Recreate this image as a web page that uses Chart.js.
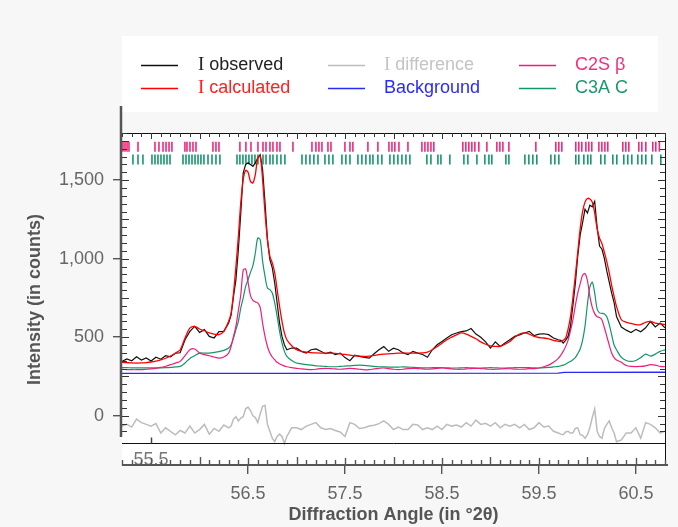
<!DOCTYPE html>
<html><head><meta charset="utf-8">
<script src="https://cdn.jsdelivr.net/npm/chart.js@4.4.1/dist/chart.umd.min.js"></script>
<style>html,body{margin:0;padding:0;background:#f7f7f7;}canvas{display:block;}</style>
</head><body>
<canvas id="c" width="678" height="527"></canvas>
<script>
// ---- data (2θ in degrees, intensity in counts) ----
const angle = [55.20,55.25,55.30,55.35,55.40,55.45,55.50,55.55,55.60,55.65,55.70,55.75,55.80,55.85,55.90,55.95,56.00,56.05,56.10,56.15,56.20,56.25,56.30,
56.325,56.35,56.375,56.40,56.425,56.45,56.475,56.50,56.525,56.55,56.575,56.60,56.625,56.65,56.675,56.70,56.725,56.75,56.775,56.80,56.825,56.85,56.875,56.90,
56.95,57.00,57.05,57.10,57.15,57.20,57.25,57.30,57.35,57.40,57.45,57.50,57.55,57.60,57.65,57.70,57.75,57.80,57.85,57.90,57.95,58.00,58.05,58.10,58.15,58.20,58.25,58.30,58.35,58.40,58.45,58.50,58.55,58.60,58.65,58.70,58.75,58.80,58.85,58.90,58.95,59.00,59.05,59.10,59.15,59.20,59.25,59.30,59.35,59.40,59.45,59.50,59.55,59.60,59.65,59.70,
59.725,59.75,59.775,59.80,59.825,59.85,59.875,59.90,59.925,59.95,59.975,60.00,60.025,60.05,60.075,60.10,60.125,60.15,60.175,60.20,60.225,60.25,60.275,60.30,
60.35,60.40,60.45,60.50,60.55,60.60,60.65,60.70,60.75,60.80];

const observed = [345,362,350,375,355,368,348,372,360,382,375,398,401,484,537,569,530,548,505,495,535,537,590,
640,760,866,1057,1291,1546,1599,1610,1599,1588,1610,1641,1662,1567,1355,1121,994,941,845,718,590,505,452,420,
431,430,410,399,420,425,410,395,405,389,399,370,350,385,378,372,367,395,420,440,410,430,420,400,389,410,399,390,372,420,452,473,495,516,527,535,540,555,520,500,470,431,470,441,463,484,505,515,527,537,510,520,522,516,495,484,
480,463,480,505,570,700,840,1015,1150,1230,1315,1290,1340,1330,1365,1200,1080,1060,1000,920,850,780,720,632,
565,545,530,550,535,560,600,565,590,560];

const calculated = [340,338,336,335,336,338,342,348,356,366,380,398,420,495,558,569,552,541,527,520,516,537,601,
654,781,951,1142,1355,1503,1562,1550,1492,1482,1535,1641,1652,1503,1291,1121,1015,973,909,803,696,601,527,484,
446,420,410,405,402,400,399,399,399,397,394,390,386,382,379,378,380,384,389,392,394,396,398,399,399,399,399,400,405,420,440,462,484,500,515,527,520,505,490,470,455,445,441,442,455,473,500,520,527,520,505,498,495,490,480,474,
472,480,495,550,630,750,890,1040,1190,1300,1360,1383,1380,1360,1290,1190,1130,1095,1040,980,910,830,760,696,
611,595,588,580,580,595,600,590,585,580];

const difference = [-66,-55,-72,-22,-44,-55,-66,-50,-110,-77,-99,-121,-94,-110,-66,-110,-88,-55,-117,-81,-99,-59,-77,
-66,-22,-6,-33,-15,-6,44,55,33,0,-11,-44,11,60,66,-55,-99,-143,-165,-132,-117,-132,-176,-132,
-77,-77,-88,-66,-55,-44,-77,-88,-81,-94,-103,-132,-44,-55,-81,-77,-66,-61,-50,-33,-55,-88,-72,-88,-88,-55,-59,-88,-77,-88,-66,-88,-55,-66,-59,-72,-44,-66,-28,-55,-48,-66,-44,-77,-55,-66,-55,-77,-55,-88,-77,-44,-72,-66,-99,-110,
-117,-121,-103,-99,-110,-110,-81,-77,-121,-125,-143,-121,-77,-11,44,-99,-132,-143,-81,-55,-33,-77,-110,-165,
-154,-110,-110,-77,-143,-44,-55,-77,-110,-99];

const c2sBeta = [295,294,293,293,294,296,298,302,308,315,325,335,346,382,420,425,399,389,382,374,367,374,399,
441,505,570,670,770,925,935,850,765,735,725,718,690,590,505,441,399,374,357,340,331,323,316,312,
306,302,298,295,294,296,300,302,300,298,296,298,302,300,296,292,293,298,302,304,300,296,294,296,300,302,300,298,296,298,302,304,302,298,296,296,298,300,302,300,298,296,296,298,300,299,297,296,297,300,300,304,312,322,340,365,
385,410,440,480,540,611,700,780,840,895,905,860,760,690,650,630,625,610,560,505,450,399,370,355,
340,320,314,313,314,318,325,322,314,312];

const c3aC = [306,306,305,305,305,305,305,305,305,306,308,311,314,336,365,382,399,399,399,403,408,416,431,
452,495,548,601,686,750,824,866,913,955,1036,1132,1121,984,887,813,803,781,718,632,537,463,410,378,
352,336,330,325,322,318,316,314,312,312,314,316,318,320,322,320,318,314,312,311,310,309,310,311,310,308,306,305,305,306,307,306,305,304,304,305,306,305,304,304,305,306,305,304,304,305,306,307,307,306,305,304,306,308,311,314,
318,322,328,338,346,357,370,395,425,480,570,710,820,850,781,680,655,652,648,630,580,515,450,420,
372,352,346,352,370,392,380,392,410,420];

const bgAngle = [55.20, 57.50, 59.70, 59.76, 60.80];
const background = [270, 270, 271, 276, 277];

// reflection positions (°2θ)
const c2sReflections = [55.210,55.231,55.252,55.272,55.365,55.540,55.581,55.623,55.654,55.685,55.715,55.849,55.870,55.901,55.932,55.963,56.138,56.169,56.200,56.416,56.478,56.530,56.602,56.654,56.685,56.726,56.757,56.798,56.829,56.963,57.159,57.200,57.231,57.262,57.324,57.355,57.499,57.551,57.581,57.736,57.839,57.953,57.984,58.014,58.056,58.149,58.293,58.324,58.355,58.386,58.416,58.715,58.746,58.777,58.808,58.839,58.880,58.963,59.066,59.097,59.128,59.190,59.468,59.674,59.705,59.736,59.880,59.911,59.942,59.984,60.014,60.045,60.118,60.149,60.180,60.210,60.365,60.396,60.427,60.530,60.561,60.602,60.674,60.705,60.742];
const c3aReflections = [55.313,55.365,55.416,55.509,55.540,55.571,55.602,55.633,55.664,55.695,55.829,55.860,55.891,55.922,55.953,55.984,56.014,56.045,56.087,56.128,56.169,56.210,56.386,56.416,56.447,56.478,56.509,56.540,56.571,56.602,56.654,56.685,56.726,56.757,56.798,56.839,56.880,57.056,57.097,57.138,57.179,57.221,57.293,57.334,57.375,57.468,57.509,57.551,57.633,57.674,57.715,57.757,57.788,57.839,57.880,57.963,58.004,58.045,58.087,58.128,58.169,58.344,58.386,58.458,58.489,58.581,58.726,58.767,58.860,58.942,58.984,59.014,59.159,59.190,59.355,59.396,59.437,59.478,59.623,59.664,59.705,59.880,59.911,59.963,60.004,60.035,60.138,60.180,60.262,60.303,60.375,60.416,60.458,60.520,60.561,60.602,60.664,60.757];

const xTickLabels = [56.5, 57.5, 58.5, 59.5, 60.5];
const yTickLabels = [0, 500, 1000, 1500];
const strayXLabel = 55.5;

// ---- styling ----
const SANS = "'Liberation Sans', Arial, Helvetica, sans-serif";
const SERIF = "'Liberation Serif', 'Times New Roman', serif";
const C2S_ROW = 1713, C3A_ROW = 1631;
const toXY = (xs, ys) => xs.map((x, i) => ({x, y: ys[i]}));

const line = (label, data, color, textColor, width, tension, order) => ({
  type: 'line', label, data, borderColor: color, legendTextColor: textColor,
  borderWidth: width, pointRadius: 0, tension, order, fill: false
});

const datasets = [
  line('I observed', toXY(angle, observed), '#111111', '#222222', 1.2, 0, 1),
  line('I calculated', toXY(angle, calculated), '#ff0000', '#ff2020', 1.3, 0.3, 0),
  line('I difference', toXY(angle, difference), '#bcbcbc', '#c4c4c4', 1.5, 0, 5),
  line('Background', toXY(bgAngle, background), '#2a2af5', '#2a2aff', 1.3, 0, 4),
  line('C2S β', toXY(angle, c2sBeta), '#ee1f7a', '#f0307f', 1.2, 0.3, 2),
  line('C3A C', toXY(angle, c3aC), '#14966a', '#1a9a6c', 1.2, 0.3, 3),
  { type: 'scatter', label: 'C2S β reflections', data: c2sReflections.map(x => ({x, y: C2S_ROW})),
    pointStyle: 'line', rotation: 90, pointRadius: 5, pointBorderWidth: 1.6, borderColor: '#f0287c', pointBorderColor: '#f0287c', order: 6 },
  { type: 'scatter', label: 'C3A C reflections', data: c3aReflections.map(x => ({x, y: C3A_ROW})),
    pointStyle: 'line', rotation: 90, pointRadius: 5, pointBorderWidth: 1.6, borderColor: '#16966a', pointBorderColor: '#16966a', order: 6 }
];

// legend layout: [dataset index, column, row]
const LEGEND_ITEMS = [[0,0,0],[1,0,1],[2,1,0],[3,1,1],[4,2,0],[5,2,1]];
const LEG_LINE_X = [141, 328, 519], LEG_TEXT_X = [198, 384, 575], LEG_ROW_Y = [65, 88];

function seg(ctx, x1, y1, x2, y2) { ctx.beginPath(); ctx.moveTo(x1, y1); ctx.lineTo(x2, y2); ctx.stroke(); }

const deco = {
  id: 'deco',
  beforeDraw(chart) {
    const {ctx, chartArea: a} = chart;
    ctx.save();
    ctx.fillStyle = '#f7f7f7'; ctx.fillRect(0, 0, chart.width, chart.height);
    ctx.fillStyle = '#ffffff';
    ctx.fillRect(a.left, 36, 658 - a.left, 76);
    ctx.fillRect(a.left, a.top, a.right - a.left, a.bottom - a.top);
    ctx.restore();
  },
  afterDraw(chart) {
    const {ctx, chartArea: a} = chart;
    const xs = chart.scales.x, ys = chart.scales.y;
    ctx.save();
    // stray label inside the lower strip
    ctx.fillStyle = '#777'; ctx.font = '18px ' + SANS; ctx.textAlign = 'center'; ctx.textBaseline = 'alphabetic';
    ctx.fillText(strayXLabel.toFixed(1), xs.getPixelForValue(strayXLabel), 465);
    // frame
    ctx.strokeStyle = '#111'; ctx.lineWidth = 1;
    const frameBottom = Math.round(ys.getPixelForValue(-175)) + 0.5;
    seg(ctx, a.left, a.top + 0.5, a.right + 0.5, a.top + 0.5);
    seg(ctx, a.right + 0.5, a.top, a.right + 0.5, a.bottom);
    seg(ctx, a.left, frameBottom, a.right + 0.5, frameBottom);
    const sx = Math.round(xs.getPixelForValue(strayXLabel)) + 0.5;
    ctx.lineWidth = 1.5; ctx.strokeStyle = '#444';
    seg(ctx, sx, frameBottom - 6, sx, frameBottom);
    // top ticks & bottom axis ticks
    ctx.lineWidth = 1; ctx.strokeStyle = '#333';
    for (let k = 552; k <= 608; k++) {
      const px = Math.round(xs.getPixelForValue(k / 10)) + 0.5;
      seg(ctx, px, a.top, px, a.top + (k % 5 === 0 ? 6 : 4));
    }
    ctx.strokeStyle = '#555'; ctx.lineWidth = 1.4;
    for (let k = 552; k <= 608; k++) {
      const px = Math.round(xs.getPixelForValue(k / 10)) + 0.5;
      const len = k % 10 === 0 ? 9 : (k % 5 === 0 ? 8 : 6);
      seg(ctx, px, a.bottom, px, a.bottom - len);
    }
    // left & right inner ticks
    ctx.strokeStyle = '#333'; ctx.lineWidth = 1;
    for (let v = -150; v <= 1800; v += 50) {
      const py = Math.round(ys.getPixelForValue(v)) + 0.5;
      if (py > 438) continue;
      const len = v % 250 === 0 ? 7 : 5;
      seg(ctx, a.left, py, a.left + len, py);
      seg(ctx, a.right, py, a.right - len, py);
    }
    // axis lines
    ctx.strokeStyle = '#555'; ctx.lineWidth = 2.5;
    seg(ctx, a.left - 1, 106, a.left - 1, 437);
    ctx.lineWidth = 2;
    seg(ctx, a.left, a.bottom - 1, a.right + 3, a.bottom - 1);
    // legend
    LEGEND_ITEMS.forEach(([di, col, row]) => {
      const ds = chart.data.datasets[di];
      const y = LEG_ROW_Y[row];
      ctx.strokeStyle = ds.borderColor; ctx.lineWidth = 1.5;
      seg(ctx, LEG_LINE_X[col], y + 0.5, LEG_LINE_X[col] + 37, y + 0.5);
      ctx.fillStyle = ds.legendTextColor; ctx.textAlign = 'left'; ctx.textBaseline = 'middle';
      let text = ds.label, x = LEG_TEXT_X[col];
      if (text.startsWith('I ')) {
        ctx.font = '19px ' + SERIF;
        ctx.fillText('I', x, y);
        x += ctx.measureText('I').width;
        text = text.slice(1);
      }
      ctx.font = '18px ' + SANS;
      ctx.fillText(text, x, y);
    });
    ctx.restore();
  }
};

new Chart(document.getElementById('c'), {
  data: { datasets },
  options: {
    responsive: false, devicePixelRatio: 1, animation: false,
    layout: { padding: { left: 0, right: 13, top: 133, bottom: 0 } },
    plugins: { legend: { display: false }, tooltip: { enabled: false } },
    scales: {
      x: {
        type: 'linear', min: 55.2, max: 60.8,
        afterBuildTicks: s => { s.ticks = xTickLabels.map(v => ({value: v})); },
        afterFit: s => { s.height = 61; },
        ticks: { callback: v => Number(v).toFixed(1), font: {family: SANS, size: 18}, color: '#666', padding: 9, maxRotation: 0, autoSkip: false },
        grid: { drawOnChartArea: false, tickLength: 8, color: '#555', lineWidth: 1.4 },
        border: { display: false },
        title: { display: true, text: 'Diffraction Angle (in °2θ)', font: {family: SANS, size: 18, weight: 'bold'}, color: '#555', padding: {top: 0, bottom: 1} }
      },
      y: {
        type: 'linear', min: -320, max: 1800,
        afterBuildTicks: s => { s.ticks = yTickLabels.map(v => ({value: v})); },
        afterFit: s => { s.width = 122; },
        ticks: { callback: v => Number(v).toLocaleString('en-US'), font: {family: SANS, size: 18}, color: '#666', padding: 9 },
        grid: { drawOnChartArea: false, tickLength: 9, color: '#555', lineWidth: 1.4 },
        border: { display: false },
        title: { display: true, text: 'Intensity (in counts)', font: {family: SANS, size: 18, weight: 'bold'}, color: '#555', padding: {top: 24, bottom: 0} }
      }
    }
  },
  plugins: [deco]
});
</script>
</body></html>
